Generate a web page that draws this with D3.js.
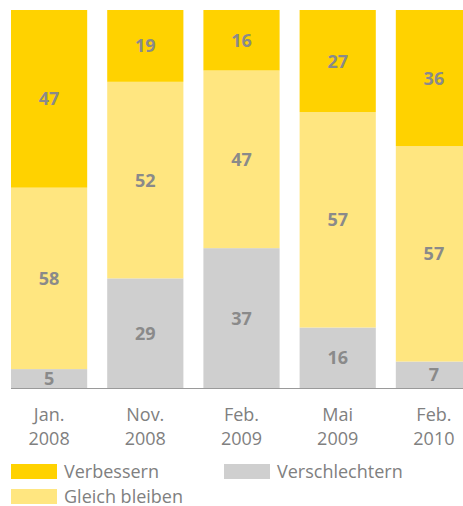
<!DOCTYPE html>
<html>
<head>
<meta charset="utf-8">
<script src="https://cdn.jsdelivr.net/npm/d3@7"></script>
<style>
	body { margin: 0; background: #fff; }
	svg { display: block; }
	text { font-family: "Open Sans", "DejaVu Sans", sans-serif; }
</style>
</head>
<body>
<svg id="canvas" width="463" height="506"></svg>
<script>
// categories (two-line tick labels)
const months = ["Jan.", "Nov.", "Feb.", "Mai", "Feb."];
const years = ["2008", "2008", "2009", "2009", "2010"];

// series values, bottom to top
const verschlechtern = [5, 29, 37, 16, 7];
const gleichBleiben = [48, 52, 47, 57, 57]; // first bar is drawn at 48 in the source
const verbessern = [47, 19, 16, 27, 36];
// printed labels for the middle series (source prints 58 on the first bar)
const gleichLabels = ["58", "52", "47", "57", "57"];

const seriesNames = ["Verschlechtern", "Gleich bleiben", "Verbessern"];
const colors = { "Verbessern": "#ffd200", "Gleich bleiben": "#ffe680", "Verschlechtern": "#cfcfcf" };

const rows = months.map((m, i) => ({
	key: i,
	"Verschlechtern": verschlechtern[i],
	"Gleich bleiben": gleichBleiben[i],
	"Verbessern": verbessern[i]
}));
const labelText = {
	"Verschlechtern": verschlechtern.map(String),
	"Gleich bleiben": gleichLabels,
	"Verbessern": verbessern.map(String)
};

const svg = d3.select("#canvas");

const x = d3.scaleBand()
	.domain(rows.map(d => d.key))
	.range([11, 472])
	.paddingInner(0.208)
	.paddingOuter(0);

const y = d3.scaleLinear()
	.domain([0, 100])
	.range([388, 10]);

const stack = d3.stack().keys(seriesNames)(rows);

// bars
const layer = svg.append("g")
	.selectAll("g")
	.data(stack)
	.join("g")
	.attr("fill", d => colors[d.key]);

layer.selectAll("rect")
	.data(d => d)
	.join("rect")
	.attr("x", d => x(d.data.key))
	.attr("width", x.bandwidth())
	.attr("y", d => y(d[1]))
	.attr("height", d => y(d[0]) - y(d[1]));

// value labels
svg.append("g")
	.selectAll("g")
	.data(stack)
	.join("g")
	.each(function (s) {
		d3.select(this).selectAll("text")
			.data(s)
			.join("text")
			.attr("x", d => x(d.data.key) + x.bandwidth() / 2)
			.attr("y", d => (y(d[0]) + y(d[1])) / 2)
			.attr("dy", "0.36em")
			.attr("text-anchor", "middle")
			.attr("font-size", 18)
			.attr("font-weight", "bold")
			.attr("fill", "#8a8a8a")
			.text((d, i) => labelText[s.key][i]);
	});

// baseline
svg.append("line")
	.attr("x1", 11)
	.attr("x2", 463)
	.attr("y1", 388.5)
	.attr("y2", 388.5)
	.attr("stroke", "#9a9a9a")
	.attr("stroke-width", 1);

// x axis labels
const xAxis = d3.axisBottom(x).tickSize(0).tickFormat(() => "");
const axisG = svg.append("g")
	.attr("transform", "translate(0,389)")
	.call(xAxis);
axisG.select(".domain").remove();
axisG.selectAll(".tick").each(function (k) {
	const t = d3.select(this).append("text")
		.attr("text-anchor", "middle")
		.attr("fill", "#808080")
		.attr("font-size", 18);
	t.append("tspan").attr("x", 0).attr("y", 32).text(months[k]);
	t.append("tspan").attr("x", 0).attr("y", 55.5).text(years[k]);
});

// legend
const legendItems = [
	{ name: "Verbessern", x: 11, y: 464 },
	{ name: "Verschlechtern", x: 224, y: 464 },
	{ name: "Gleich bleiben", x: 11, y: 489 }
];
const legend = svg.append("g")
	.selectAll("g")
	.data(legendItems)
	.join("g")
	.attr("transform", d => `translate(${d.x},${d.y})`);
legend.append("rect")
	.attr("width", 46)
	.attr("height", 15)
	.attr("fill", d => colors[d.name]);
legend.append("text")
	.attr("x", 53)
	.attr("y", 7.5)
	.attr("dy", "0.36em")
	.attr("font-size", 18)
	.attr("fill", "#808080")
	.text(d => d.name);
</script>
</body>
</html>
